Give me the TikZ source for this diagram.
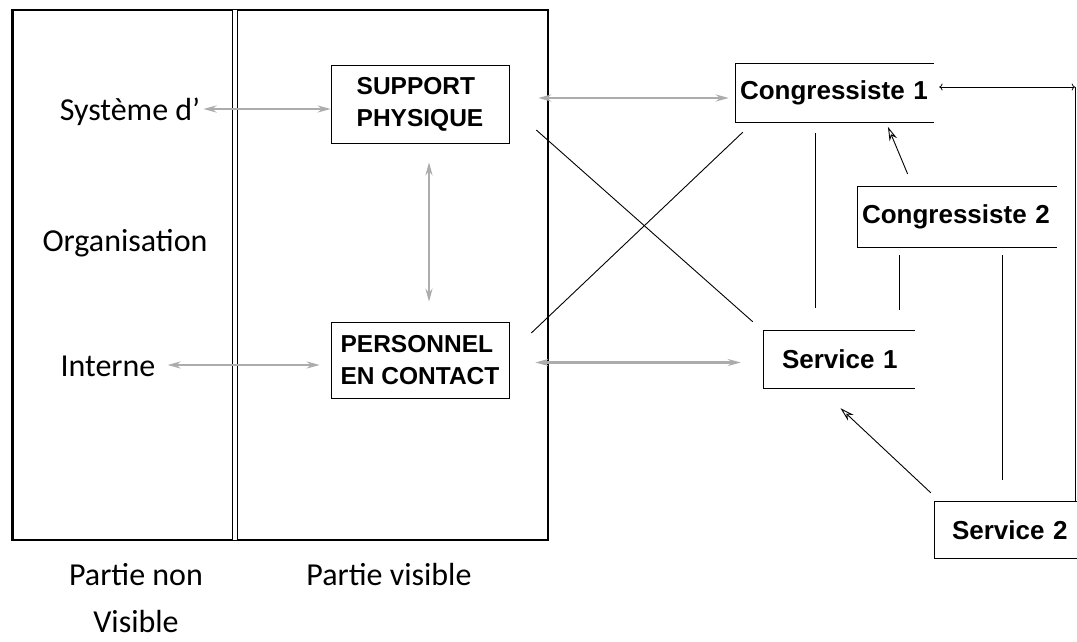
\documentclass[tikz,border=0pt]{standalone}
\usepackage{fontspec}
\setmainfont{Carlito}
\newfontfamily\boxfont{Liberation Sans}
\usetikzlibrary{arrows.meta}

\tikzset{
    label/.style={font=\fontsize{32}{38}\selectfont, inner sep=0pt},
    inbox/.style={draw, line width=0.6pt, minimum width=178pt, align=left,
        font=\boxfont\bfseries\fontsize{24.5}{32}\selectfont},
    outbox/.style={align=left, inner xsep=0pt, inner ysep=0pt,
        font=\boxfont\bfseries\fontsize{26}{30}\selectfont},
    garrow/.style={{Stealth[open,length=13pt,width=7pt]}-{Stealth[open,length=13pt,width=7pt]},
        draw=gray!65, line width=2.2pt},
    bline/.style={draw, line width=0.9pt},
    barrow/.style={bline, -{Stealth[length=14pt,width=8pt,open]}},
}

\begin{document}
\begin{tikzpicture}[x=1pt,y=-1pt]
    \useasboundingbox (0,0) rectangle (1077,642);

    % frame of the two parts
    \draw[line width=1.6pt] (12,10) rectangle (548,540);
    \draw[line width=3pt] (12,10) -- (12,540);
    \draw[line width=1.4pt, double, double distance=4pt] (235,10) -- (235,540);

    \begin{scope}[every node/.style={label}]
        \node (sys) at (130,112) {Système d'};
        \node (org) at (125,243) {Organisation};
        \node (inte) at (108,366) {Interne};
        \node (pnv) at (136,575) {Partie non};
        \node (vis) at (136,622) {Visible};
        \node (pv) at (389,575) {Partie visible};
    \end{scope}

    \node (sup) [inbox, minimum height=78pt] at (420,104) {SUPPORT\\PHYSIQUE};
    \node (per) [inbox, minimum height=76pt] at (420,360) {PERSONNEL\\EN CONTACT};

    % boxes open on their right side
    \begin{scope}[every node/.style={outbox}]
        \node (c1) [text width=189pt, minimum height=58pt] at (834.5,93) {Congressiste 1};
        \node (c2) [text width=195pt, minimum height=60pt] at (959.5,217) {Congressiste 2};
        \node (s1) [text width=133pt, minimum height=57pt] at (848.5,359.5) {Service 1};
        \node (s2) [text width=125pt, minimum height=56pt] at (1014.5,530) {Service 2};
    \end{scope}
    \foreach \b/\l/\r in {c1/735/934, c2/857/1057, s1/763/915, s2/934/1077} {
        \draw[line width=1pt] (\r,0 |- \b.north) -- (\l,0 |- \b.north)
            -- (\l,0 |- \b.south) -- (\r,0 |- \b.south);
    }

    \coordinate (cnr) at (1075,87);

    \begin{scope}[every edge/.style={garrow}]
        \path
            (sys.east |- 0,109) edge [shorten <=3pt] (sup.west |- 0,109)
            (inte.east |- 0,365) edge [shorten <=12pt, shorten >=11pt] (per.west |- 0,365)
            ([xshift=9pt]sup.south) edge [shorten <=19pt, shorten >=20pt] ([xshift=9pt]per.north)
            ([yshift=-5pt]c1.west -| sup.east) edge [shorten <=29pt, shorten >=11pt] ([yshift=-5pt]c1.west)
            ([yshift=-3pt]s1.west -| per.east) edge [shorten <=26pt, shorten >=41pt] ([yshift=-3pt]s1.west);
    \end{scope}

    \begin{scope}[every edge/.style={bline}]
        \path
            ([shift={(27pt,-26pt)}]sup.east) edge ([shift={(-29pt,9pt)}]s1.north west)
            ([shift={(3pt,-10pt)}]c1.south west) edge ([shift={(22pt,27pt)}]per.east)
            ([xshift=-19.5pt]c1.south) edge [shorten <=11pt, shorten >=23pt] ([xshift=-19.5pt]c1.south |- s1.north)
            ([xshift=-60pt]c2.south) edge [shorten <=8pt, shorten >=21pt] ([xshift=-60pt]c2.south |- s1.north)
            ([xshift=43pt]c2.south) edge [shorten <=8pt, shorten >=22pt] ([xshift=43pt]c2.south |- s2.north)
            (cnr) edge (cnr |- s2.north)
            ([xshift=-46.5pt]c2.north) edge [barrow, shorten <=14pt, shorten >=5pt] ([xshift=51.5pt]c1.south)
            ([shift={(-21pt,9pt)}]s2.north west) edge [barrow] ([shift={(-8pt,-20pt)}]s1.south)
            (cnr) edge [barrow, <->, line width=0.8pt, shorten >=10pt] (c1.east |- cnr);
    \end{scope}
\end{tikzpicture}
\end{document}
